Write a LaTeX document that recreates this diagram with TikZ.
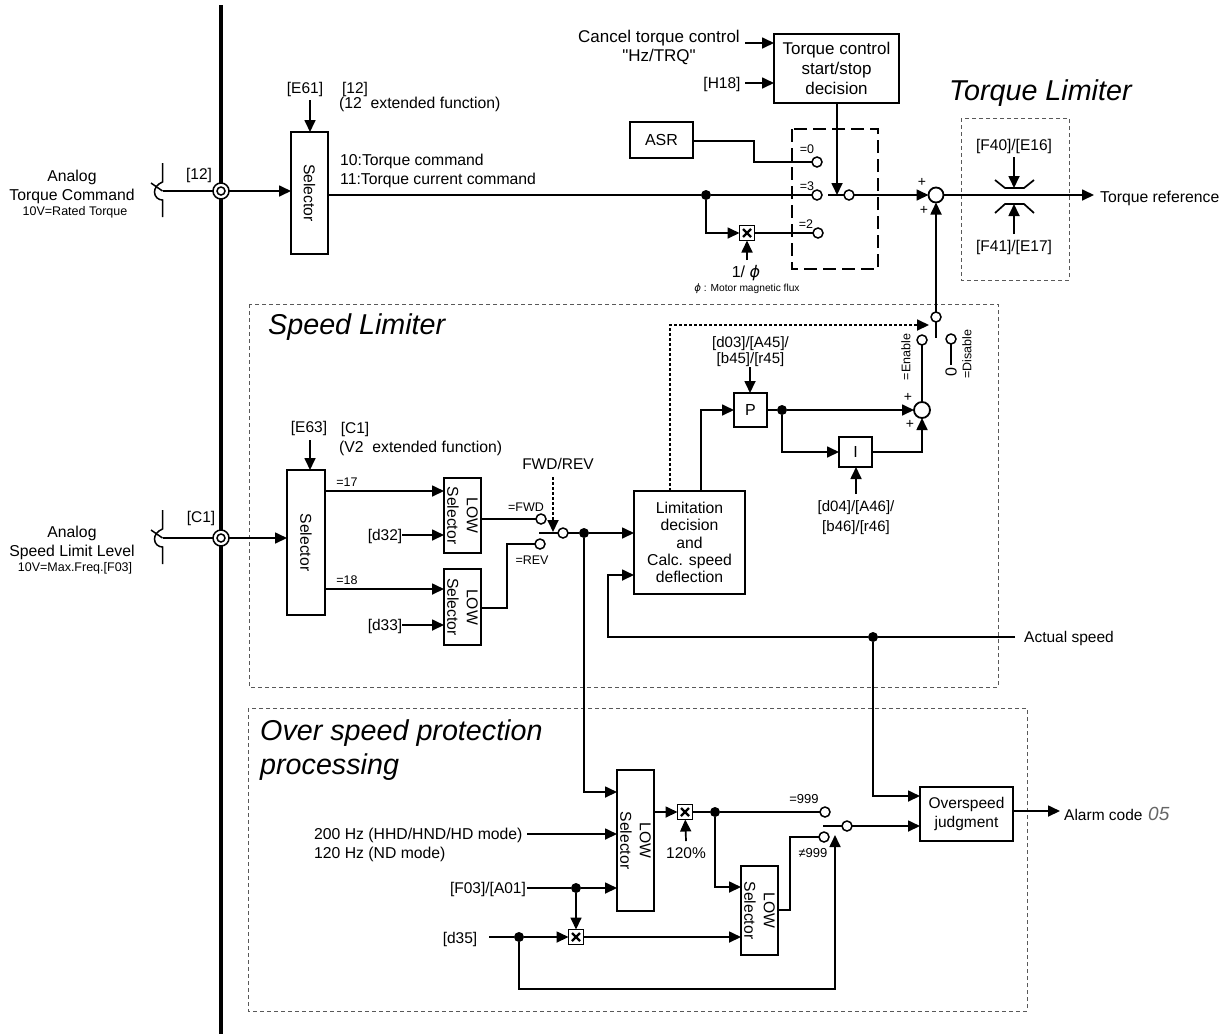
\documentclass[tikz,border=0pt]{standalone}
\usepackage{fontspec}
\setmainfont{Liberation Sans}
\newfontfamily\dvfont{DejaVu Sans}
\newfontfamily\plainf{Liberation Sans}
\usetikzlibrary{arrows.meta}
\newcommand{\fs}[1]{\fontsize{#1}{#1}\selectfont}
\tikzset{
 conn/.style={line width=1.7pt},
 arr/.style={conn,-{Triangle[length=12pt,width=11pt]}},
 dotarr/.style={line width=1.8pt,dash pattern=on 3pt off 2pt,-{Triangle[length=12pt,width=11pt,sep=0pt]}},
 box/.style={draw,line width=1.7pt,inner sep=0pt,outer sep=0pt,align=center,fill=white,font=\fs{16}},
 term/.style={circle,draw,fill=white,line width=1.5pt,minimum size=10pt,inner sep=0pt,outer sep=0pt},
 jdot/.style={circle,fill=black,minimum size=10pt,inner sep=0pt,outer sep=0pt},
 sumj/.style={circle,draw,fill=white,line width=1.8pt,minimum size=15pt,inner sep=0pt,outer sep=0pt},
 multb/.style={draw,fill=white,line width=1.5pt,minimum size=15pt,inner sep=0pt,outer sep=0pt,
   path picture={\draw[line width=2.2pt] (path picture bounding box.south west) ++(3.5pt,3.5pt) -- ++(8pt,8pt) ++(-8pt,0) -- ++(8pt,-8pt);}},
 lab/.style={inner sep=0pt,align=center,font=\fs{15.5},text height=12.5pt,text depth=2.5pt},
 txt/.style={lab,font=\fs{15.75}},
 llab/.style={txt,anchor=west,align=left},
 rlab/.style={txt,anchor=east,align=right},
 sm/.style={inner sep=0pt,align=center,font=\fs{12.5}},
 xs/.style={inner sep=0pt,align=center,font=\fs{12.5}},
 pm/.style={inner sep=0pt,font=\fs{14}},
 title/.style={inner sep=0pt,anchor=west,align=left,font=\fs{28.7}\itshape},
 groupbox/.style={draw=black!65,line width=0.8pt,dash pattern=on 4pt off 3pt},
 heavydash/.style={line width=1.8pt,dash pattern=on 13pt off 6pt},
 vsel/.style={box,rotate=-90,font=\fs{15.7}},
}
\newcommand{\jack}[3]{%
 \coordinate (#3) at (#1,#2);
 \draw[line width=1.5pt] (#1,#2-28) -- (#1,#2-9) .. controls (#1-5,#2-7) and (#1-8,#2-3) .. (#1-8,#2+1) .. controls (#1-8,#2+6) and (#1-4,#2+9) .. (#1,#2+9) -- (#1,#2+26);
 \draw[line width=1.5pt] (#1-11.5,#2-8) -- (#3);
}
\begin{document}
\begin{tikzpicture}[x=1pt,y=-1pt]
\useasboundingbox (0,0) rectangle (1230,1034);
\fill[white] (0,0) rectangle (1230,1034);

% group boxes
\draw[groupbox] (961,118) rectangle (1069,280);
\draw[groupbox] (249,304) rectangle (998,687);
\draw[groupbox] (248,708) rectangle (1027,1011);
\draw[heavydash] (792,129) rectangle (878,269);

% bus
\coordinate (busT) at (221,5); \coordinate (busB) at (221,1034);
\draw[line width=3.3pt] (busT) -- (busB);

% titles
\node[title] (tTL) at (949,93) {Torque Limiter};
\node[title] (tSL) at (268,327) {Speed Limiter};
\node[title] (tOS) at (260,733) {Over speed protection};
\node[title] (tOS2) at (260,767) {processing};

%%% --- Torque input
\node[txt] (aT) at (72,176) {Analog};
\node[txt] (aT2) at (72,195) {Torque Command};
\node[sm] (aT3) at (75,212) {10V=Rated Torque};
\jack{162.5}{191}{jk1}
\node[lab] (l12) at (199,174) {[12]};
\node[circle,draw,fill=white,line width=1.5pt,minimum size=16pt,inner sep=0pt,outer sep=0pt] (bus1) at (221,191) {};
\node[circle,draw,line width=1.5pt,minimum size=8pt,inner sep=0pt] (bus1i) at (221,191) {};
\draw[conn] (jk1) -- (bus1);
\node[vsel,minimum width=122pt,minimum height=37pt] (sel1) at (309.5,193) {Selector};
\draw[arr] (bus1) -- (sel1.south |- bus1);
\node[lab] (e61) at (305,88) {[E61]};
\node[lab] (l12b) at (355,88) {[12]};
\node[llab] (ext12) at (339,103) {(12~~extended function)};
\coordinate (e61a) at (310,100);
\draw[arr] (e61a) -- (e61a |- sel1.west);
\node[llab] (c10) at (340,160) {10:Torque command};
\node[llab] (c11) at (340,179) {11:Torque current command};

%%% --- torque switch
\node[term] (t0) at (817,162) {};
\node[term] (t3) at (817,195) {};
\node[term] (t2) at (818,233) {};
\node[xs] at (807,149) {=0};
\node[xs] at (807,186) {=3};
\node[xs] at (806,224) {=2};
\node[jdot] (dA) at (706,195) {};
\node[multb] (m1) at (747,233) {};
\draw[conn] (sel1.north |- dA) -- (dA);
\draw[conn] (dA) -- (t3);
\coordinate (dAc) at (706,233);
\draw[arr] (dA) -- (dAc) -- (m1);
\draw[conn] (m1) -- (t2);
\node[lab,font=\fs{16}] (phi) at (746,272) {1/ {\dvfont\itshape ϕ}};
\node[inner sep=0pt,font=\fs{10.2}] (phin) at (747,289) {{\dvfont\itshape ϕ} : Motor magnetic flux};
\coordinate (phic) at (747,260);
\draw[arr] (phic) -- (m1);
\node[box,minimum width=63pt,minimum height=36pt] (asr) at (661.5,140) {ASR};
\coordinate (as1) at (754,141); \coordinate (as2) at (754,162);
\draw[conn] (asr.east |- as1) -- (as1) -- (as2) -- (t0);
\node[box,minimum width=125pt,minimum height=69pt,font=\fs{17}] (tcd) at (836.5,68.5) {Torque control\\[3pt]start/stop\\[3pt]decision};
\node[rlab,font=\fs{17}] (cn1) at (740,37) {Cancel torque control};
\node[lab,font=\fs{17}] (cn2) at (659,56) {{\plainf "Hz/TRQ"}};
\coordinate (cna) at (745,43);
\draw[arr] (cna) -- (cna -| tcd.west);
\node[lab] (h18) at (722,83) {[H18]};
\coordinate (ha) at (745,83);
\draw[arr] (ha) -- (ha -| tcd.west);
\node[term] (sw1) at (849,195) {};
\coordinate (sw1l) at (828,195);
\draw[conn] (sw1l) -- (sw1);
\coordinate (tcdb) at (837,195);
\draw[arr] (tcd.south -| tcdb) -- (tcdb);
\node[sumj] (sum1) at (936,195) {};
\draw[arr] (sw1) -- (sum1);
\node[pm] at (922,182) {+};
\node[pm] at (924,210) {+};

%%% --- torque limiter
\coordinate (tq) at (1094,195);
\draw[arr] (sum1) -- (tq);
\node[llab] (tqr) at (1100,197) {Torque reference};
\node[lab] (f40) at (1014,145) {[F40]/[E16]};
\node[lab] (f41) at (1014,246) {[F41]/[E17]};
\draw[line width=1.7pt] (995,180) -- (1005,188) -- (1024,188) -- (1034,180);
\draw[line width=1.7pt] (995,213) -- (1005,204) -- (1024,204) -- (1034,213);
\coordinate (la1) at (1014,157); \coordinate (la2) at (1014,188);
\coordinate (lb1) at (1014,234); \coordinate (lb2) at (1014,204);
\draw[arr] (la1) -- (la2);
\draw[arr] (lb1) -- (lb2);

%%% --- speed input
\node[txt] (aS) at (72,532) {Analog};
\node[txt] (aS2) at (72,551) {Speed Limit Level};
\node[sm] (aS3) at (75,568) {10V=Max.Freq.[F03]};
\jack{162.5}{538}{jk2}
\node[lab] (lc1) at (201,517) {[C1]};
\node[circle,draw,fill=white,line width=1.5pt,minimum size=16pt,inner sep=0pt,outer sep=0pt] (bus2) at (221,538) {};
\node[circle,draw,line width=1.5pt,minimum size=8pt,inner sep=0pt] (bus2i) at (221,538) {};
\draw[conn] (jk2) -- (bus2);
\node[vsel,minimum width=145pt,minimum height=38pt] (sel2) at (306,542.5) {Selector};
\draw[arr] (bus2) -- (sel2.south |- bus2);
\node[lab] (e63) at (309,427) {[E63]};
\node[lab] (lc1b) at (355,428) {[C1]};
\node[llab] (extv) at (339,447) {(V2~~extended function)};
\coordinate (e63a) at (310,440);
\draw[arr] (e63a) -- (e63a |- sel2.west);

\node[vsel,minimum width=75pt,minimum height=37pt] (ls1) at (462.5,515.5) {LOW\\[4pt]Selector};
\node[vsel,minimum width=76pt,minimum height=37pt] (ls2) at (462.5,607) {LOW\\[4pt]Selector};
\coordinate (c17) at (325,491); \coordinate (c18) at (325,589);
\draw[arr] (c17) -- (c17 -| ls1.south);
\draw[arr] (c18) -- (c18 -| ls2.south);
\node[xs] at (347,482) {=17};
\node[xs] at (347,580) {=18};
\node[lab] (d32) at (385,535) {[d32]};
\node[lab] (d33) at (385,625) {[d33]};
\coordinate (d32a) at (402,535); \coordinate (d33a) at (402,625);
\draw[arr] (d32a) -- (d32a -| ls1.south);
\draw[arr] (d33a) -- (d33a -| ls2.south);

\node[term] (tF) at (541,519) {};
\node[term] (tR) at (540,544) {};
\node[xs] at (526,507) {=FWD};
\node[xs] at (532,560) {=REV};
\draw[conn] (ls1.north |- tF) -- (tF);
\coordinate (r0) at (481,608); \coordinate (r1) at (507,608); \coordinate (r2) at (507,544);
\draw[conn] (r0) -- (r1) -- (r2) -- (tR);
\node[term] (sw2) at (563,533) {};
\coordinate (sw2l) at (539,533);
\draw[conn] (sw2l) -- (sw2);
\node[lab] (fwd) at (558,464) {FWD/REV};
\coordinate (fa1) at (553,477); \coordinate (fa2) at (553,532);
\draw[dotarr] (fa1) -- (fa2);
\node[jdot] (dB) at (584,533) {};
\draw[conn] (sw2) -- (dB);
\node[box,minimum width=111pt,minimum height=103pt,font=\fs{15.75}] (dec) at (689.5,542.5) {Limitation\\[1.5pt]decision\\[1.5pt]and\\[1.5pt]Calc. speed\\[1.5pt]deflection};
\draw[arr] (dB) -- (dec.west |- dB);

% actual speed
\node[llab,font=\fs{15.5}] (act) at (1024,637) {Actual speed};
\node[jdot] (dC) at (873,637) {};
\coordinate (as3) at (1015,637);
\coordinate (fb1) at (608,637); \coordinate (fb2) at (608,575);
\draw[conn] (as3) -- (dC);
\draw[arr] (dC) -- (fb1) -- (fb2) -- (dec.west |- fb2);

% P I
\node[box,minimum width=33pt,minimum height=34pt] (P) at (750.5,410) {P};
\node[box,minimum width=33pt,minimum height=30pt] (I) at (855.5,452) {I};
\coordinate (p1) at (701,410);
\draw[arr] (dec.north -| p1) -- (p1) -- (P);
\node[jdot] (dD) at (782,410) {};
\draw[conn] (P) -- (dD);
\node[sumj,minimum size=16pt] (sum2) at (922,410) {};
\draw[arr] (dD) -- (sum2);
\coordinate (dDc) at (782,452);
\draw[arr] (dD) -- (dDc) -- (I);
\coordinate (ic) at (922,452);
\draw[arr] (I) -- (ic) -- (sum2);
\node[pm] at (908,397) {+};
\node[pm] at (910,424) {+};
\node[lab,font=\fs{15}] (d03) at (750.5,342) {[d03]/[A45]/};
\node[lab,font=\fs{15}] (d03b) at (750.5,358) {[b45]/[r45]};
\coordinate (pa) at (750,367);
\draw[arr] (pa) -- (pa |- P.north);
\node[lab,font=\fs{15}] (d04) at (856,506) {[d04]/[A46]/};
\node[lab,font=\fs{15}] (d04b) at (856,526) {[b46]/[r46]};
\coordinate (ia) at (856,494);
\draw[arr] (ia) -- (ia |- I.south);

% enable / disable switch
\node[term] (tEn) at (922,340) {};
\node[term] (tDi) at (951,339) {};
\node[term] (sw3) at (936,317) {};
\coordinate (sw3b) at (936,338);
\draw[conn] (sw3) -- (sw3b);
\draw[conn] (sum2) -- (tEn);
\node[inner sep=0pt,rotate=90,font=\fs{16}] (zero) at (951,372) {0};
\coordinate (zt) at (951,365);
\draw[conn] (tDi) -- (zt);
\node[xs,rotate=90] (en) at (906,357) {=Enable};
\node[xs,rotate=90] (dis) at (967,354) {=Disable};
\draw[arr] (sw3) -- (sum1);
% dotted decision -> switch
\coordinate (q1) at (670,325); \coordinate (q2) at (929,325);
\draw[dotarr] (dec.north -| q1) -- (q1) -- (q2);

%%% --- overspeed
\node[vsel,minimum width=141pt,minimum height=37pt] (ls3) at (635.5,840.5) {LOW\\[4pt]Selector};
\node[vsel,minimum width=89pt,minimum height=37pt] (ls4) at (759.5,910.5) {LOW\\[4pt]Selector};
\coordinate (b1) at (584,792);
\draw[arr] (dB) -- (b1) -- (b1 -| ls3.south);
\node[llab] (hz1) at (314,834) {200 Hz (HHD/HND/HD mode)};
\node[llab] (hz2) at (314,853) {120 Hz (ND mode)};
\coordinate (hza) at (527,834);
\draw[arr] (hza) -- (hza -| ls3.south);
\node[lab] (f03) at (488,888) {[F03]/[A01]};
\coordinate (f03a) at (527,888);
\node[jdot] (dE) at (576,888) {};
\draw[conn] (f03a) -- (dE);
\draw[arr] (dE) -- (dE -| ls3.south);
\node[multb] (m2) at (576,937) {};
\draw[arr] (dE) -- (m2);
\node[lab] (d35) at (460,938) {[d35]};
\coordinate (d35a) at (489,937);
\node[jdot] (dF) at (519,937) {};
\draw[conn] (d35a) -- (dF);
\draw[arr] (dF) -- (m2);
\draw[arr] (m2) -- (m2 -| ls4.south);
\node[multb] (m3) at (685,812) {};
\draw[arr] (ls3.north |- m3) -- (m3);
\node[lab] (p120) at (686,853) {120\%};
\coordinate (pca) at (686,841);
\draw[arr] (pca) -- (m3);
\node[jdot] (dG) at (715,812) {};
\draw[conn] (m3) -- (dG);
\node[term] (t999) at (825,812) {};
\node[term] (tn999) at (824,837) {};
\node[xs,font=\fs{13}] at (804,799) {=999};
\node[xs,font=\fs{13}] at (813,853) {≠999};
\draw[conn] (dG) -- (t999);
\coordinate (g1) at (715,887);
\draw[arr] (dG) -- (g1) -- (g1 -| ls4.south);
\coordinate (s1) at (790,910); \coordinate (s2) at (790,837);
\draw[conn] (ls4.north |- s1) -- (s1) -- (s2) -- (tn999);
\node[term] (sw4) at (847,826) {};
\coordinate (sw4l) at (823,826);
\draw[conn] (sw4l) -- (sw4);
\coordinate (u1) at (519,989); \coordinate (u2) at (835,989); \coordinate (u3) at (835,835);
\draw[arr] (dF) -- (u1) -- (u2) -- (u3);
\node[box,minimum width=93pt,minimum height=54pt,font=\fs{15.5}] (ovs) at (966.5,814) {Overspeed\\[3pt]judgment};
\draw[arr] (sw4) -- (ovs.west |- sw4);
\coordinate (o1) at (873,796);
\draw[arr] (dC) -- (o1) -- (o1 -| ovs.west);
\coordinate (alarm) at (1060,811);
\draw[arr] (ovs.east |- alarm) -- (alarm);
\node[llab,font=\fs{15.5}] (alm) at (1064,815) {Alarm code};
\node[inner sep=0pt,anchor=west,font=\fs{19}\itshape,text=black!60] (alm5) at (1148,814) {05};
\end{tikzpicture}
\end{document}
